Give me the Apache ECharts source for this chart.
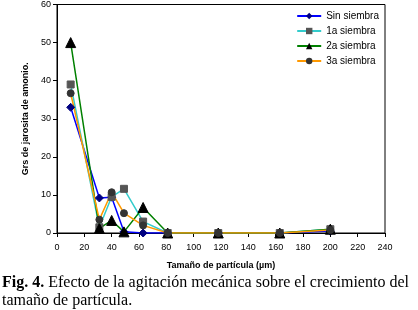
<!DOCTYPE html>
<html>
<head>
<meta charset="utf-8">
<script src="https://cdn.jsdelivr.net/npm/echarts@6/dist/echarts.min.js"></script>
<style>
  html, body { margin: 0; padding: 0; background: #fff; }
  #chart { width: 418px; height: 310px; }
</style>
</head>
<body>
<div id="chart"></div>
<script>
// tamaños de partícula (µm)
const sizes = [10, 31, 40, 49, 63, 81, 118, 163, 200];
const sinSiembra = [33, 9.2, 9.4, 0.3, 0, 0, 0, 0, 0.5];
const siembra1 = [39, 1.5, 9.5, 11.6, 3, 0, 0, 0, 1];
const siembra2 = [50, 1.2, 3.3, 0.3, 6.7, 0, 0, 0, 1];
const siembra3 = [36.7, 3.5, 10.7, 5.2, 2, 0, 0, 0, 0.8];
const xTicks = [0, 20, 40, 60, 80, 100, 120, 140, 160, 180, 200, 220, 240];

const pairs = vals => sizes.map((x, i) => [x, vals[i]]);

const mkSeries = (name, vals, lineColor, symbol, symColor, symSize) => ({
  name: name,
  type: 'line',
  data: pairs(vals),
  symbol: symbol,
  symbolSize: symSize,
  lineStyle: {color: lineColor, width: 1.5},
  itemStyle: {color: symColor, borderColor: symColor},
  color: lineColor
});

const chart = echarts.init(document.getElementById('chart'));
chart.setOption({
  animation: false,
  grid: {left: 57, top: 3, width: 328, height: 230, show: true, borderColor: '#000', borderWidth: 1},
  legend: {
    orient: 'vertical',
    right: 34,
    top: 6,
    itemWidth: 24,
    itemHeight: 8,
    itemGap: 5,
    textStyle: {fontFamily: 'Liberation Sans', fontSize: 10, color: '#000'},
    data: ['Sin siembra', '1a siembra', '2a siembra', '3a siembra']
  },
  xAxis: {
    type: 'value', min: 0, max: 240, interval: 20,
    name: 'Tamaño de partícula (µm)',
    nameLocation: 'middle', nameGap: 28,
    nameTextStyle: {fontFamily: 'Liberation Sans', fontSize: 9, fontWeight: 'bold', color: '#000'},
    axisLine: {lineStyle: {color: '#000'}},
    axisTick: {lineStyle: {color: '#000'}, length: 4},
    axisLabel: {fontFamily: 'Liberation Sans', fontSize: 9, color: '#000', margin: 10,
      formatter: v => xTicks.includes(v) ? String(v) : ''},
    splitLine: {show: false}
  },
  yAxis: {
    type: 'value', min: 0, max: 60, interval: 10,
    name: 'Grs de jarosita de amonio.',
    nameLocation: 'middle', nameGap: 23,
    nameTextStyle: {fontFamily: 'Liberation Sans', fontSize: 9, fontWeight: 'bold', color: '#000'},
    axisLine: {lineStyle: {color: '#000'}},
    axisTick: {lineStyle: {color: '#000'}, length: 4},
    axisLabel: {fontFamily: 'Liberation Sans', fontSize: 9, color: '#000', margin: 6},
    splitLine: {show: false}
  },
  series: [
    mkSeries('Sin siembra', sinSiembra, '#0000ff', 'diamond', '#000080', 8),
    mkSeries('1a siembra', siembra1, '#33cccc', 'rect', '#555555', 7),
    mkSeries('2a siembra', siembra2, '#008000', 'triangle', '#000000', 10),
    mkSeries('3a siembra', siembra3, '#ff9900', 'circle', '#333333', 7)
  ],
  graphic: [{
    type: 'text',
    left: 2,
    top: 274,
    style: {
      text: '{b|Fig. 4.} Efecto de la agitación mecánica sobre el crecimiento del\ntamaño de partícula.',
      font: '16px "Liberation Serif"',
      fill: '#000',
      lineHeight: 18,
      rich: {b: {fontWeight: 'bold', fontFamily: 'Liberation Serif', fontSize: 16}}
    }
  }]
});
</script>
</body>
</html>
